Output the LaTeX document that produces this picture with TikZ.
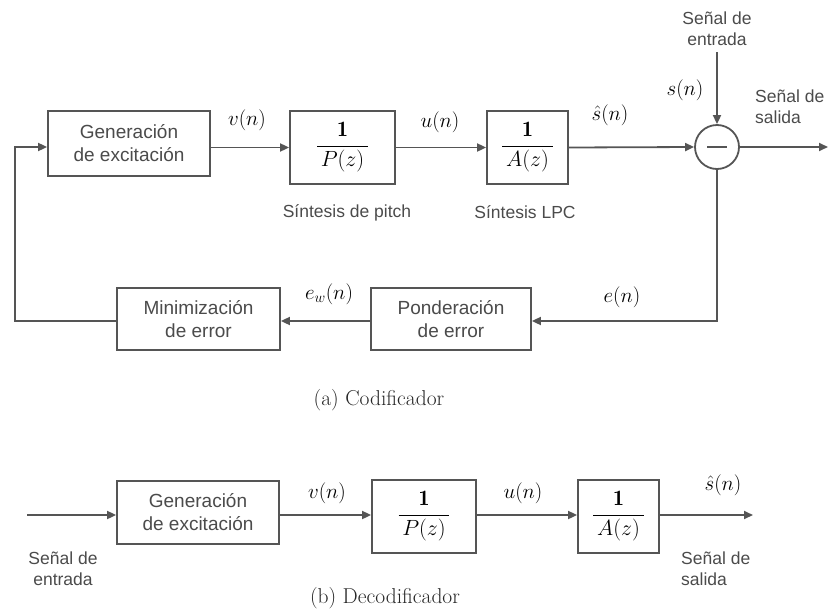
\RequirePackage{fix-cm}
\documentclass[tikz,border=0pt]{standalone}
\usepackage{amsmath}
\usepackage{fontspec}
\newfontfamily\boxfont{Liberation Sans}
\usetikzlibrary{arrows.meta,calc}
\definecolor{lncol}{RGB}{85,85,85}
\definecolor{txcol}{RGB}{75,75,75}
\begin{document}
\begin{tikzpicture}[x=1pt,y=-1pt,
  ln/.style={draw=lncol, line width=1.8pt},
  arr/.style={ln,-{Triangle[length=9pt,width=8pt]}},
  blk/.style={draw=lncol, line width=1.8pt, fill=white, inner sep=0pt, font=\boxfont\fontsize{19}{23}\selectfont, text=txcol, align=center},
  frac/.style={blk, font=\fontsize{22}{26}\selectfont, text=black},
  lab/.style={inner sep=0pt, font=\fontsize{21}{25}\selectfont},
  sig/.style={inner sep=0pt, font=\boxfont\fontsize{17.5}{21}\selectfont, text=txcol},
  captxt/.style={inner sep=0pt, font=\fontsize{21.5}{25}\selectfont, text=black!85}
]
\useasboundingbox (0,0) rectangle (834,613);
% ---------- (a) Codificador ----------
\node[blk, minimum width=162, minimum height=65] (gen1) at (129,143.5) {Generación\\de excitación};
\node[frac, minimum width=105, minimum height=73] (pz1) at (342.5,147.5) {$\dfrac{\mathbf{1}}{\,P(z)\,}$};
\node[frac, minimum width=81, minimum height=73] (az1) at (527.5,147.5) {$\dfrac{\mathbf{1}}{\,A(z)\,}$};
\node[circle, draw=lncol, line width=1.8pt, minimum size=44, inner sep=0pt] (sum) at (717,147) {};
\draw[ln] ($(sum.center)+(-10,0)$) -- ($(sum.center)+(10,0)$);
\node[blk, minimum width=160, minimum height=62] (pond) at (451,319) {Ponderación\\de error};
\node[blk, minimum width=163, minimum height=62] (minim) at (198.5,319) {Minimización\\de error};
\coordinate (out1) at (828,147);
\coordinate (in1) at (717,52);
\coordinate (lp) at (15,147);
\draw[arr] (gen1.east |- pz1.west) -- (pz1.west);
\draw[arr] (pz1.east) -- (az1.west);
\draw[arr] (az1.east) -- (sum.west);
\draw[arr] (sum.east) -- (out1);
\draw[arr] (in1) -- (sum.north);
\draw[arr] (sum.south) |- ($(pond.east)+(0,2)$);
\draw[arr] ($(pond.west)+(0,2)$) -- ($(minim.east)+(0,2)$);
\draw[arr] ($(minim.west)+(0,2)$) -| (lp) -- (gen1.west |- lp);
\node[lab] (vn1) at (247,120) {$v(n)$};
\node[lab] (un1) at (440,122) {$u(n)$};
\node[lab] (sh1) at (610,115) {$\hat{s}(n)$};
\node[lab] (sn1) at (685,90) {$s(n)$};
\node[lab] (en1) at (622,297) {$e(n)$};
\node[lab] (ew1) at (329,294) {$e_w(n)$};
\node[sig, align=center] (ent1) at (717,29) {Señal de\\entrada};
\node[sig, align=left, anchor=west] (sal1) at (755,107) {Señal de\\salida};
\node[sig] (sp) at (347,213) {Síntesis de pitch};
\node[sig] (slpc) at (525,212) {Síntesis LPC};
\node[captxt] (ca) at (379,400) {(a) Codificador};
% ---------- (b) Decodificador ----------
\node[blk, minimum width=162, minimum height=63] (gen2) at (198,512.5) {Generación\\de excitación};
\node[frac, minimum width=104, minimum height=73] (pz2) at (424,516.5) {$\dfrac{\mathbf{1}}{\,P(z)\,}$};
\node[frac, minimum width=81, minimum height=73] (az2) at (618.5,516.5) {$\dfrac{\mathbf{1}}{\,A(z)\,}$};
\coordinate (in2) at (27,515);
\coordinate (out2) at (753,515);
\draw[arr] (in2) -- (gen2.west |- in2);
\draw[arr] (gen2.east |- in2) -- (pz2.west |- in2);
\draw[arr] (pz2.east |- in2) -- (az2.west |- in2);
\draw[arr] (az2.east |- in2) -- (out2);
\node[lab] (vn2) at (327,493) {$v(n)$};
\node[lab] (un2) at (523,493) {$u(n)$};
\node[lab] (sh2) at (723,485) {$\hat{s}(n)$};
\node[sig, align=center] (ent2) at (63,569) {Señal de\\entrada};
\node[sig, align=left, anchor=west] (sal2) at (681,569) {Señal de\\salida};
\node[captxt] (cb) at (385,598) {(b) Decodificador};
\end{tikzpicture}
\end{document}
